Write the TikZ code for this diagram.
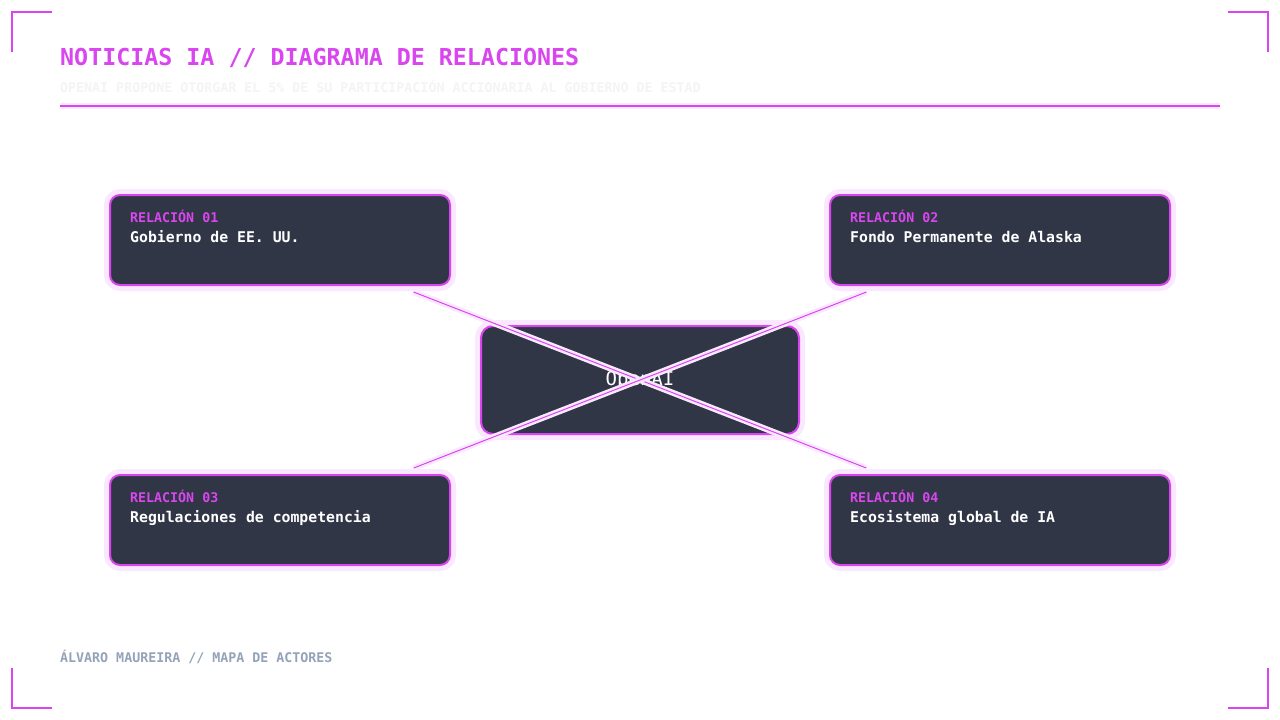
\documentclass[tikz,border=0pt]{standalone}
\usepackage{fontspec}
\setmonofont{DejaVu Sans Mono}
\usepackage{xcolor}
\usetikzlibrary{positioning}

\definecolor{fuchsia}{HTML}{D946EF}
\definecolor{glow}{HTML}{FAE8FF}
\definecolor{slatebox}{HTML}{303646}
\definecolor{footgray}{HTML}{94A3B8}
\definecolor{faint}{HTML}{F3F4F6}

\begin{document}
\begin{tikzpicture}[x=1pt,y=-1pt,
    card/.style={draw=fuchsia, line width=2pt, fill=slatebox, rounded corners=10pt,
      minimum width=340pt, minimum height=90pt, outer sep=7pt,
      preaction={draw=glow, line width=12pt}},
    hub/.style={card, minimum width=318pt, minimum height=108pt, rounded corners=12pt,
      text=white, font=\ttfamily\fontsize{19}{19}\selectfont},
    tag/.style={anchor=base west, text=fuchsia, inner sep=0pt, font=\ttfamily\bfseries\fontsize{13.3}{14}\selectfont},
    who/.style={anchor=base west, text=white, inner sep=0pt, font=\ttfamily\bfseries\fontsize{14.8}{16}\selectfont},
    link/.style={draw=fuchsia, line width=1pt, preaction={draw=glow, line width=6pt}},
    corner/.style={draw=fuchsia, line width=2pt}]
  \useasboundingbox[fill=white] (0,0) rectangle (1280,720);

  % Corner marks
  \draw[corner] (12,52) -- (12,12) -- (52,12);
  \draw[corner] (1228,12) -- (1268,12) -- (1268,52);
  \draw[corner] (12,668) -- (12,708) -- (52,708);
  \draw[corner] (1228,708) -- (1268,708) -- (1268,668);

  % Header
  \node[anchor=base west, inner sep=0pt, text=fuchsia, font=\ttfamily\bfseries\fontsize{23.3}{24}\selectfont]
    (title) at (60,65) {NOTICIAS IA // DIAGRAMA DE RELACIONES};
  \node[anchor=base west, inner sep=0pt, text=faint, font=\ttfamily\bfseries\fontsize{13.3}{14}\selectfont]
    (sub) at (60,92) {OPENAI PROPONE OTORGAR EL 5\% DE SU PARTICIPACIÓN ACCIONARIA AL GOBIERNO DE ESTAD};
  \draw[draw=glow, line width=6pt] (60,105.5) -- (1220,105.5);
  \draw[draw=fuchsia, line width=2pt] (60,105.5) -- (1220,105.5);

  % Relation cards
  \node[card] (r1) at (280,240) {};
  \node[card] (r2) at (1000,240) {};
  \node[card] (r3) at (280,520) {};
  \node[card] (r4) at (1000,520) {};

  \node[tag] (r1a) at (130,222) {RELACIÓN 01};
  \node[who] (r1b) at (130,242) {Gobierno de EE. UU.};
  \node[tag] (r2a) at (850,222) {RELACIÓN 02};
  \node[who] (r2b) at (850,242) {Fondo Permanente de Alaska};
  \node[tag] (r3a) at (130,502) {RELACIÓN 03};
  \node[who] (r3b) at (130,522) {Regulaciones de competencia};
  \node[tag] (r4a) at (850,502) {RELACIÓN 04};
  \node[who] (r4b) at (850,522) {Ecosistema global de IA};

  % Central actor
  \node[hub] (hub) at (640,380) {OpenAI};

  % Links
  \draw[link] (r1) -- (r4);
  \draw[link] (r2) -- (r3);

  % Footer
  \node[anchor=base west, inner sep=0pt, text=footgray, font=\ttfamily\bfseries\fontsize{13.3}{14}\selectfont]
    (foot) at (60,662) {ÁLVARO MAUREIRA // MAPA DE ACTORES};
\end{tikzpicture}
\end{document}
